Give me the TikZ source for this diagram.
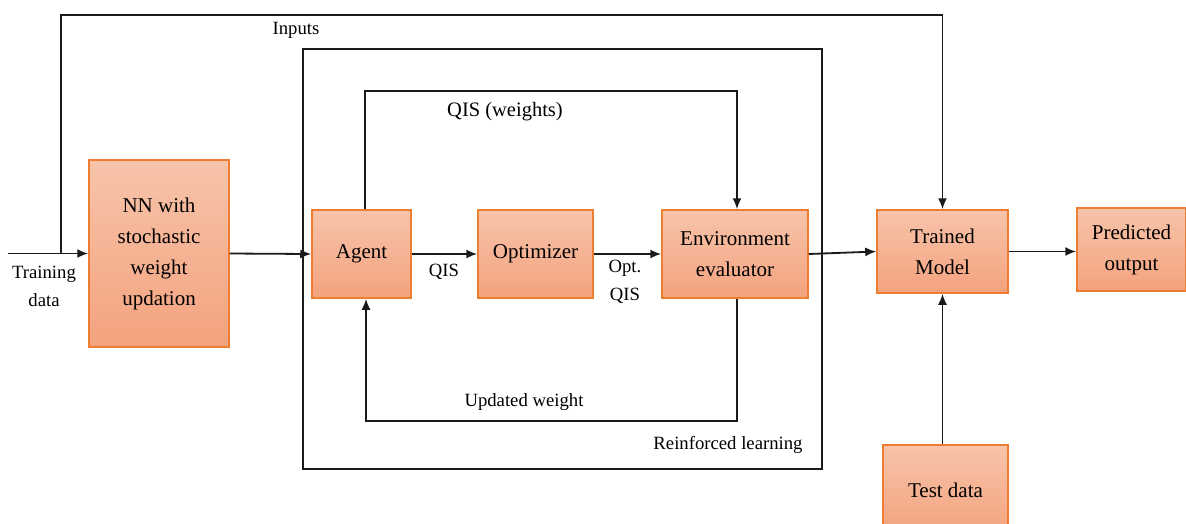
\documentclass[tikz,border=0pt]{standalone}
\usepackage{fontspec}
\setmainfont{Liberation Serif}
\usetikzlibrary{arrows.meta}
\definecolor{boxedge}{HTML}{ED7D31}
\definecolor{boxtop}{HTML}{F7C4AA}
\definecolor{boxbot}{HTML}{F4A27E}
\definecolor{ln}{HTML}{1A1A1A}
\tikzset{
  blk/.style={draw=boxedge, line width=1.5pt, top color=boxtop, bottom color=boxbot,
    align=center, inner sep=0pt, font=\fontsize{21}{31}\selectfont},
  lbl/.style={align=center, inner sep=0pt, font=\fontsize{18.7}{28}\selectfont},
  wire/.style={draw=ln, line width=1.8pt},
  arr/.style={wire, -{Latex[length=11pt,width=9pt]}},
  frame/.style={draw=ln, line width=1.5pt, inner sep=0pt}
}
\begin{document}
\begin{tikzpicture}[x=1pt,y=-1pt]
\useasboundingbox (0,0) rectangle (1186,523);
\fill[white] (0,0) rectangle (1186,523);

% reinforced learning frame
\node[frame, minimum width=519, minimum height=420] (rl) at (562.5,259) {};
\node[lbl] (rllab) at (728,445) {Reinforced learning};

% blocks
\node[blk, minimum width=140, minimum height=187] (nn) at (159,253.5) {NN with\\stochastic\\weight\\updation};
\node[blk, minimum width=99, minimum height=88] (agent) at (361.5,254) {Agent};
\node[blk, minimum width=115, minimum height=88] (opt) at (535.5,254) {Optimizer};
\node[blk, minimum width=146, minimum height=88] (env) at (735,254) {Environment\\evaluator};
\node[blk, minimum width=131, minimum height=83] (tm) at (942.5,251.5) {Trained\\Model};
\node[blk, minimum width=109, minimum height=83] (po) at (1131.5,249.5) {Predicted\\output};
\node[blk, minimum width=125, minimum height=90] (td) at (945.5,490) {Test data};

% labels
\node[lbl] (tdlab) at (44,286) {Training\\data};
\node[lbl] (inlab) at (296,30) {Inputs};
\node[lbl] (qislab) at (444,272) {QIS};
\node[lbl] (optlab) at (625,282) {Opt.\\QIS};
\node[font=\fontsize{20.5}{28}\selectfont, inner sep=0pt] (qwlab) at (505,112) {QIS (weights)};
\node[lbl] (uwlab) at (524,402) {Updated weight};

% coordinates
\coordinate (tin) at (8,253.5);
\coordinate (j) at (61,253.5);
\coordinate (tl) at (61,15);
\coordinate (tr) at (942.5,15);
\coordinate (lt) at (365,91);
\coordinate (rt) at (737,91);
\coordinate (rb) at (737,421);
\coordinate (lb) at (366,421);

% connectors
\draw[arr] (tin) -- (nn.west);
\draw[wire] (j) -- (tl) -- (tr);
\draw[arr] (tr) -- (tm.north);
\draw[arr] (nn.east) -- (agent.west);
\draw[arr] (agent.east) -- (opt.west);
\draw[arr] (opt.east) -- (env.west);
\draw[arr] (agent.north -| lt) -- (lt) -- (rt) -- (env.north -| rt);
\draw[arr] (env.south -| rb) -- (rb) -- (lb) -- (agent.south -| lb);
\draw[arr] (env.east) -- (tm.west);
\draw[arr] (tm.east) -- (tm.east -| po.west);
\draw[arr] (td.north -| tm.south) -- (tm.south);
\end{tikzpicture}
\end{document}
